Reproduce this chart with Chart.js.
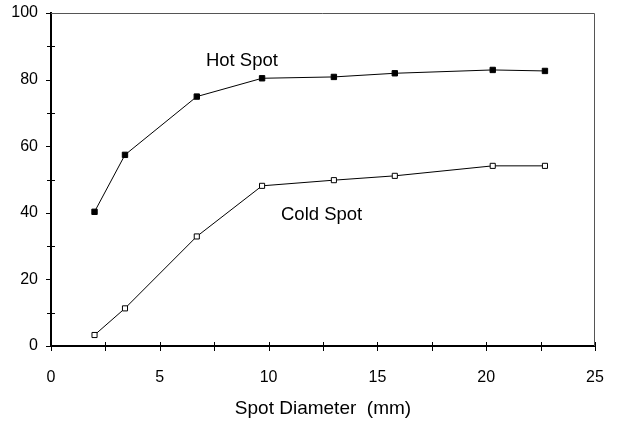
<!DOCTYPE html>
<html>
<head>
<meta charset="utf-8">
<script src="https://cdn.jsdelivr.net/npm/chart.js@4"></script>
<style>
  html, body { margin: 0; padding: 0; background: #fff; }
  #wrap { width: 619px; height: 423px; position: relative; }
</style>
</head>
<body>
<div id="wrap"><canvas id="c" width="619" height="423"></canvas></div>
<script>
const spotDiameter = [2.0, 3.4, 6.7, 9.7, 13.0, 15.8, 20.3, 22.7];
const hotSpot = [40.3, 57.4, 74.9, 80.4, 80.8, 81.9, 82.9, 82.6];
const coldSpot = [3.3, 11.3, 32.9, 48.1, 49.8, 51.1, 54.1, 54.1];
const xTicks = [0, 5, 10, 15, 20, 25];
const yTicks = [0, 20, 40, 60, 80, 100];
const xMinorTicks = [2.5, 7.5, 12.5, 17.5, 22.5];
const yMinorTicks = [10, 30, 50, 70, 90];
const seriesLabels = ['Hot Spot', 'Cold Spot'];
const labelAnchors = [[7.12, 84.1], [10.57, 37.8]];
const xTitle = 'Spot Diameter  (mm)';

const FONT = '"Liberation Sans", Arial, sans-serif';

const toPoints = (ys) => spotDiameter.map((x, i) => ({ x: x, y: ys[i] }));

const zeroPad = (s) => { s.paddingTop = 0; s.paddingBottom = 0; s.paddingLeft = 0; s.paddingRight = 0; };

const extras = {
  id: 'extras',
  afterDraw(chart) {
    const { ctx, chartArea: a, scales: { x, y } } = chart;
    ctx.save();
    // top and right frame
    ctx.strokeStyle = '#555';
    ctx.lineWidth = 1;
    ctx.beginPath();
    ctx.moveTo(a.left, a.top + 0.5);
    ctx.lineTo(a.right - 0.5, a.top + 0.5);
    ctx.lineTo(a.right - 0.5, a.bottom);
    ctx.stroke();
    // ticks
    ctx.strokeStyle = '#000';
    ctx.lineWidth = 1;
    ctx.beginPath();
    yTicks.forEach(v => {
      const py = Math.round(y.getPixelForValue(v)) + 0.5;
      ctx.moveTo(a.left - 5, py); ctx.lineTo(a.left, py);
    });
    yMinorTicks.forEach(v => {
      const py = Math.round(y.getPixelForValue(v)) + 0.5;
      ctx.moveTo(a.left - 4, py); ctx.lineTo(a.left + 4, py);
    });
    xTicks.concat(xMinorTicks).forEach(v => {
      const px = Math.round(x.getPixelForValue(v)) + 0.5;
      ctx.moveTo(px, a.bottom - 4); ctx.lineTo(px, a.bottom + 5);
    });
    ctx.stroke();
    // series labels
    ctx.fillStyle = '#000';
    ctx.font = '18.5px ' + FONT;
    ctx.textAlign = 'left';
    ctx.textBaseline = 'alphabetic';
    seriesLabels.forEach((t, i) => {
      ctx.fillText(t, x.getPixelForValue(labelAnchors[i][0]), y.getPixelForValue(labelAnchors[i][1]));
    });
    ctx.restore();
  }
};

new Chart(document.getElementById('c'), {
  type: 'scatter',
  data: {
    datasets: [
      {
        label: seriesLabels[0],
        data: toPoints(hotSpot),
        showLine: true,
        borderColor: '#000',
        borderWidth: 1,
        pointStyle: 'rect',
        pointRadius: 3.8,
        pointBackgroundColor: '#000',
        pointBorderColor: '#000',
        pointBorderWidth: 1
      },
      {
        label: seriesLabels[1],
        data: toPoints(coldSpot),
        showLine: true,
        borderColor: '#000',
        borderWidth: 1,
        pointStyle: 'rect',
        pointRadius: 3.6,
        pointBackgroundColor: '#fff',
        pointBorderColor: '#000',
        pointBorderWidth: 1
      }
    ]
  },
  options: {
    responsive: false,
    animation: false,
    devicePixelRatio: 1,
    layout: { padding: { top: 13, right: 24, left: 0, bottom: 0 } },
    plugins: { legend: { display: false }, tooltip: { enabled: false } },
    scales: {
      x: {
        type: 'linear',
        min: 0, max: 25,
        afterFit(s) { s.height = 77; zeroPad(s); },
        afterBuildTicks(s) { s.ticks = xTicks.map(v => ({ value: v })); },
        grid: { display: false, drawTicks: false },
        border: { display: true, color: '#000', width: 2 },
        ticks: { color: '#000', font: { family: FONT, size: 16 }, padding: 22, maxRotation: 0 },
        title: {
          display: true, text: xTitle, color: '#000',
          font: { family: FONT, size: 19 }, padding: { top: 0, bottom: 3 }
        }
      },
      y: {
        type: 'linear',
        min: 0, max: 100,
        afterFit(s) { s.width = 51; zeroPad(s); },
        afterBuildTicks(s) { s.ticks = yTicks.map(v => ({ value: v })); },
        grid: { display: false, drawTicks: false },
        border: { display: true, color: '#000', width: 2 },
        ticks: { color: '#000', font: { family: FONT, size: 16 }, padding: 13 }
      }
    }
  },
  plugins: [extras]
});
</script>
</body>
</html>
